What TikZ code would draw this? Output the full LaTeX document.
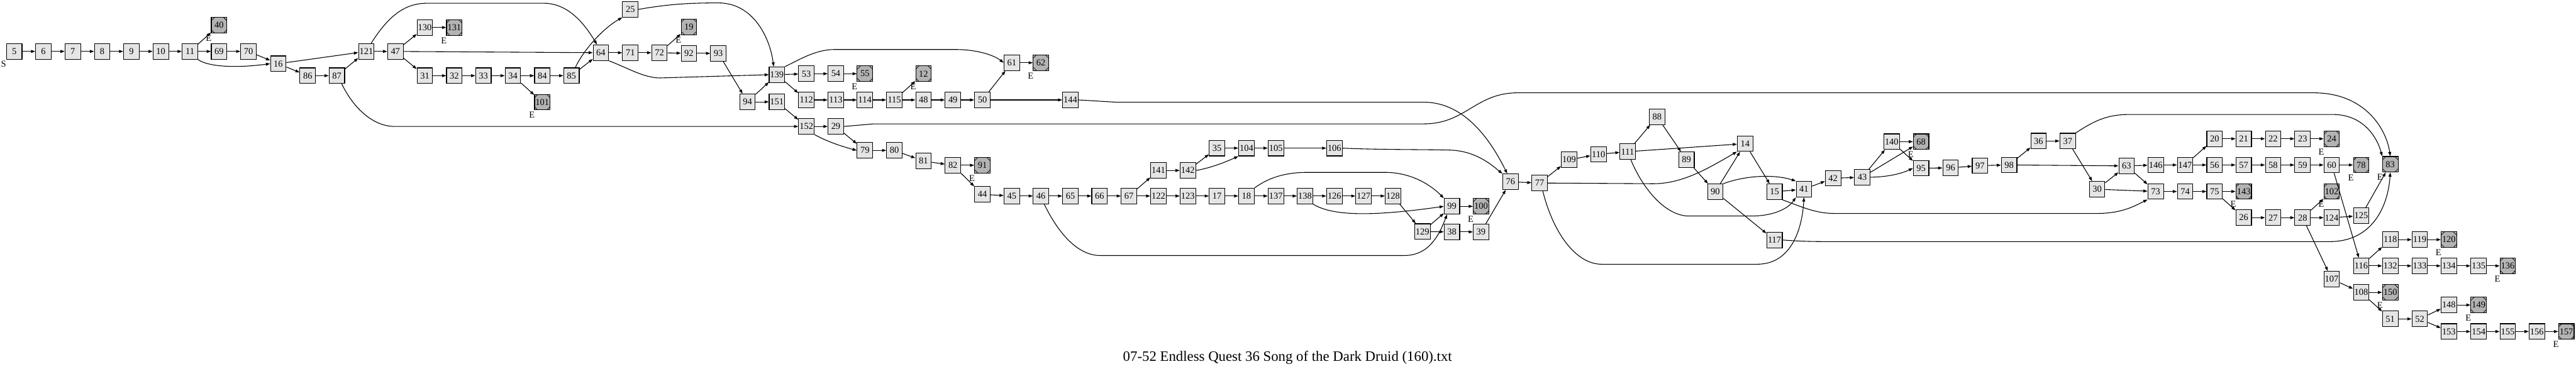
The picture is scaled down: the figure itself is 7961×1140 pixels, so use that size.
\documentclass[tikz,border=0pt]{standalone}
\usepackage{fontspec}
\setmainfont{Liberation Serif}
\usetikzlibrary{arrows.meta,calc}
\definecolor{nodefill}{HTML}{E5E5E5}
\definecolor{endfill}{HTML}{B3B3B3}
\tikzset{
  box/.style={draw, line width=0.6pt, fill=nodefill, minimum width=0.48cm, minimum height=0.48cm, inner sep=0pt, font=\fontsize{8}{9}\selectfont},
  endbox/.style={box, fill=endfill, path picture={
    \draw[line width=0.4pt] ([xshift=0.1cm]path picture bounding box.north west) -- ([yshift=-0.1cm]path picture bounding box.north west);
    \draw[line width=0.4pt] ([xshift=-0.1cm]path picture bounding box.north east) -- ([yshift=-0.1cm]path picture bounding box.north east);
    \draw[line width=0.4pt] ([xshift=0.1cm]path picture bounding box.south west) -- ([yshift=0.1cm]path picture bounding box.south west);
    \draw[line width=0.4pt] ([xshift=-0.1cm]path picture bounding box.south east) -- ([yshift=0.1cm]path picture bounding box.south east);
  }},
  conn/.style={draw, line width=0.6pt, -{Triangle[length=0.13cm,width=0.09cm]}},
  elab/.style={font=\fontsize{8}{9}\selectfont, inner sep=0pt},
}
\begin{document}
\begin{tikzpicture}[x=0.01cm,y=-0.01cm]
\useasboundingbox (0,0) rectangle (7961,1140);
% ordinary nodes
\foreach \n/\x/\y in {5/44/159,6/134/159,7/225/159,8/316/159,9/406/159,10/497/159,11/587/159,
 69/677/159,70/768/159,16/860/197,86/951/234,87/1041/234,121/1132/159,47/1222/159,130/1313/85,31/1313/234,
 32/1404/234,33/1494/234,34/1585/234,84/1676/234,85/1766/234,64/1857/163,25/1948/29,71/1948/163,
 72/2038/163,92/2129/165,93/2220/165,94/2310/315,139/2401/231,151/2401/315,53/2492/228,54/2583/228,
 112/2492/309,113/2583/309,114/2673/309,152/2492/391,29/2583/391,79/2673/465,115/2764/309,48/2854/309,
 49/2945/309,50/3036/309,61/3127/194,144/3308/309,80/2764/465,81/2854/498,82/2945/511,44/3036/601,
 45/3127/606,46/3217/606,65/3308/606,66/3398/606,67/3489/606,141/3580/527,142/3671/527,35/3761/458,
 104/3852/458,105/3943/458,106/4124/458,122/3580/606,123/3671/606,17/3761/606,18/3852/606,137/3943/606,
 138/4033/606,126/4124/606,127/4214/606,128/4305/606,99/4487/638,129/4396/716,38/4487/717,39/4577/717,
 76/4668/562,77/4758/566,109/4849/494,110/4940/477,111/5030/469,88/5121/361,89/5212/494,90/5301/593,
 14/5393/444,15/5484/593,41/5575/585,117/5484/742,42/5665/551,43/5755/548,140/5846/438,95/5937/520,
 96/6028/519,97/6119/512,98/6209/510,36/6300/436,37/6390/436,63/6572/513,30/6481/585,146/6662/510,
 147/6753/510,73/6662/592,74/6753/592,75/6844/592,20/6844/429,21/6934/429,22/7025/429,23/7116/429,
 56/6844/510,57/6934/510,58/7025/510,59/7116/510,60/7206/510,26/6934/673,27/7025/673,28/7116/673,
 124/7206/673,125/7297/667,107/7206/863,116/7297/822,108/7297/904,118/7387/741,119/7478/741,
 132/7387/822,133/7478/822,134/7568/822,135/7660/822,51/7387/986,52/7478/986,148/7568/943,
 153/7568/1025,154/7660/1025,155/7750/1025,156/7840/1025}
  \node[box] (n\n) at (\x,\y) {\n};
% end nodes
\foreach \n/\x/\y in {40/677/78,131/1404/85,101/1676/316,19/2129/83,55/2673/228,12/2854/228,62/3217/194,
 91/3036/511,100/4577/638,68/5937/438,143/6934/592,24/7206/429,78/7297/510,102/7206/592,83/7387/508,
 120/7568/741,136/7750/822,150/7387/904,149/7660/943,157/7931/1025}
 {
  \node[endbox] (n\n) at (\x,\y) {\n};
  \node[elab] (e\n) at ($(n\n.south west)+(-7,15)$) {E};
 }
\node[elab] (s) at ($(n5.south west)+(-8,13)$) {S};
% straight connectors
\foreach \a/\b in {5/6,6/7,7/8,8/9,9/10,10/11,11/40,11/69,69/70,70/16,16/121,16/86,86/87,87/121,121/47,
 47/130,47/64,47/31,130/131,31/32,32/33,33/34,34/84,84/85,34/101,85/64,64/71,71/72,72/19,72/92,92/93,
 93/94,94/139,94/151,151/152,139/53,139/112,53/54,54/55,112/113,113/114,114/115,115/12,115/48,48/49,
 49/50,50/61,50/144,61/62,152/29,29/79,79/80,80/81,81/82,82/91,82/44,44/45,45/46,46/65,65/66,66/67,
 67/141,67/122,141/142,142/35,35/104,104/105,105/106,122/123,123/17,17/18,18/137,137/138,138/126,
 126/127,127/128,128/129,129/99,129/38,38/39,39/76,99/100,76/77,77/109,109/110,110/111,111/88,111/14,
 88/89,89/90,90/14,90/117,14/15,15/41,41/42,42/43,43/140,43/68,140/68,140/95,95/96,96/97,97/98,98/36,
 98/63,36/37,37/30,30/63,30/73,63/73,63/146,146/147,147/20,147/56,20/21,21/22,22/23,23/24,56/57,57/58,
 58/59,59/60,60/78,60/116,73/74,74/75,75/143,75/26,26/27,27/28,28/102,28/124,28/107,124/125,125/83,
 107/108,116/118,118/119,119/120,116/132,132/133,133/134,134/135,135/136,108/150,108/51,51/52,52/148,
 148/149,52/153,153/154,154/155,155/156,156/157}
  \draw[conn] (n\a) -- (n\b);
% curved connectors
\draw[conn] (n11.south east) .. controls (640,205) and (720,212) .. (n16.west);
\draw[conn] ([xshift=0.15cm]n121.north) .. controls (1200,50) and (1250,10) .. (1320,10) -- (1680,10) .. controls (1760,10) and (1810,80) .. ([xshift=-0.12cm]n64.north);
\draw[conn] ([xshift=0.15cm]n87.south) .. controls (1090,330) and (1150,391) .. (1220,391) -- (n152.west);
\draw[conn] ([xshift=0.12cm]n85.north) .. controls (1800,160) and (1860,90) .. (n25.south west);
\draw[conn] (n64.south east) .. controls (1940,210) and (1990,241) .. (2040,241) -- (n139.west);
\draw[conn] (n25.east) .. controls (2060,14) and (2120,9) .. (2220,9) .. controls (2330,9) and (2380,120) .. ([xshift=-0.1cm]n139.north);
\draw[conn] (n139.north east) .. controls (2470,185) and (2520,153) .. (2580,153) -- (2950,153) .. controls (3020,153) and (3070,170) .. (n61.west);
\draw[conn] (n29.east) -- (2700,383) -- (4400,383) .. controls (4530,383) and (4560,287) .. (4690,287) -- (7150,287) .. controls (7310,287) and (7375,400) .. (n83.north);
\draw[conn] (n144.east) -- (3450,316) -- (4400,316) .. controls (4530,316) and (4610,440) .. ([xshift=-0.1cm]n76.north);
\draw[conn] (n106.east) .. controls (4250,463) and (4400,462) .. (4480,464) .. controls (4560,466) and (4610,510) .. (n76.north west);
\draw[conn] (n152.south east) .. controls (2560,440) and (2610,455) .. (n79.west);
\draw[conn] (n18.north east) .. controls (3920,550) and (3970,533) .. (4040,533) -- (4280,533) .. controls (4370,533) and (4430,580) .. (n99.north west);
\draw[conn] (n138.south east) .. controls (4120,670) and (4250,668) .. (n99.west);
\draw[conn] ([xshift=0.1cm]n46.south) .. controls (3270,720) and (3330,790) .. (3400,790) -- (4340,790) .. controls (4420,790) and (4450,720) .. ([xshift=-0.15cm]n99.south);
\draw[conn] (n142.east) .. controls (3740,520) and (3790,500) .. (n104.south west);
\draw[conn] (n77.east) -- (5110,568) .. controls (5200,568) and (5280,520) .. (n14.south west);
\draw[conn] ([xshift=0.1cm]n111.south) .. controls (5080,590) and (5150,668) .. (5220,668) -- (5410,668) .. controls (5490,668) and (5530,640) .. (n41.south west);
\draw[conn] ([xshift=0.1cm]n77.south) .. controls (4800,720) and (4870,817) .. (4950,817) -- (5430,817) .. controls (5540,817) and (5570,700) .. (n41.south);
\draw[conn] (n90.north east) .. controls (5400,540) and (5490,540) .. (n41.north west);
\draw[conn] (n15.south east) .. controls (5570,640) and (5610,660) .. (5670,660) -- (6480,660) .. controls (6560,660) and (6600,635) .. (n73.south west);
\draw[conn] (n117.east) .. controls (5560,746) and (5600,747) .. (5650,747) -- (7200,747) .. controls (7330,747) and (7380,640) .. (n83.south);
\draw[conn] (n37.north east) .. controls (6470,375) and (6510,354) .. (6580,354) -- (7210,354) .. controls (7300,354) and (7345,420) .. (n83.north west);
\draw[conn] (n43.east) .. controls (5840,547) and (5880,535) .. (n95.west);
% caption
\node[font=\fontsize{12.6}{14}\selectfont, inner sep=0pt] (title) at (3979,1105) {07-52 Endless Quest 36 Song of the Dark Druid (160).txt};
\end{tikzpicture}
\end{document}
